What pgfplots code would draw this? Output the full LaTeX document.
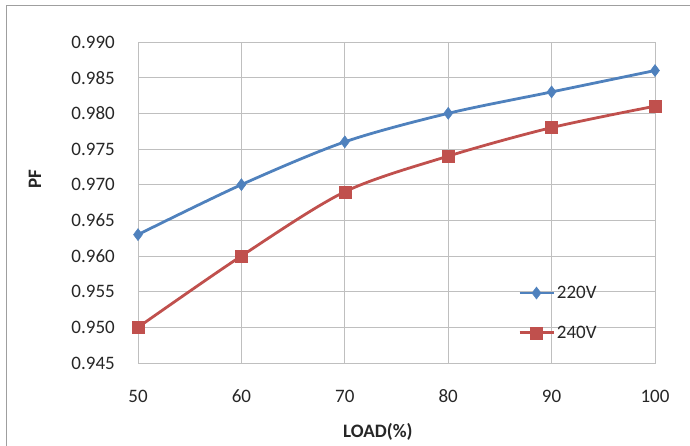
\documentclass[border=0pt]{standalone}
\usepackage{pgfplots}
\pgfplotsset{compat=1.18}
\usepackage{fontspec}
\setmainfont{Carlito}
\definecolor{serA}{HTML}{4F81BD}
\definecolor{serB}{HTML}{C0504D}
\definecolor{gridc}{HTML}{BFBFBF}
\begin{document}
\begin{tikzpicture}[x=1pt,y=1pt]
\draw[gray!75, line width=1pt] (6,0) -- (6,440) -- (690,440);
\begin{axis}[
  at={(138pt,83pt)}, anchor=south west,
  width=517pt, height=321pt, scale only axis,
  xmin=50, xmax=100, ymin=0.945, ymax=0.990,
  xtick={50,60,70,80,90,100},
  ytick={0.945,0.950,0.955,0.960,0.965,0.970,0.975,0.980,0.985,0.990},
  grid=major, major grid style={gridc, line width=0.9pt},
  axis line style={gridc, line width=0.9pt},
  tick style={draw=none},
  /pgf/number format/assume math mode=true,
  ticklabel style={font=\fontsize{19}{19}\selectfont, text=black!85, inner sep=0pt},
  yticklabel style={anchor=east, xshift=-23pt, /pgf/number format/.cd, fixed, fixed zerofill, precision=3},
  xticklabel style={anchor=center, yshift=-33pt},
  xlabel={LOAD(\%)}, ylabel={PF},
  label style={font=\fontsize{19}{19}\selectfont\bfseries, text=black!85},
  xlabel style={at={([yshift=-69pt]axis description cs:0.464,0)}, anchor=center},
  ylabel style={at={([xshift=-103pt]axis description cs:0,0.573)}, anchor=center},
  clip=false,
  legend style={at={(rel axis cs:0.729,0.156)}, anchor=west, draw=none, fill=none,
    font=\fontsize{19}{19}\selectfont, text=black!85, row sep=22pt,
    nodes={inner sep=2pt}},
  legend cell align=left,
  legend image code/.code={\draw[#1, mark repeat=2, mark phase=2] plot coordinates {(0pt,0pt) (17pt,0pt) (34pt,0pt)};},
]
\addplot[color=serA, line width=2.8pt, smooth, mark=diamond*, mark size=6pt, mark options={solid, line width=0.5pt}]
  coordinates {(50,0.963) (60,0.970) (70,0.976) (80,0.980) (90,0.983) (100,0.986)};
\addlegendentry{220V}
\addplot[color=serB, line width=2.8pt, smooth, mark=square*, mark size=6pt, mark options={solid, line width=0.5pt}]
  coordinates {(50,0.950) (60,0.960) (70,0.969) (80,0.974) (90,0.978) (100,0.981)};
\addlegendentry{240V}
\end{axis}
\pgfresetboundingbox
\path[use as bounding box] (0,0) rectangle (690,446);
\end{tikzpicture}
\end{document}
